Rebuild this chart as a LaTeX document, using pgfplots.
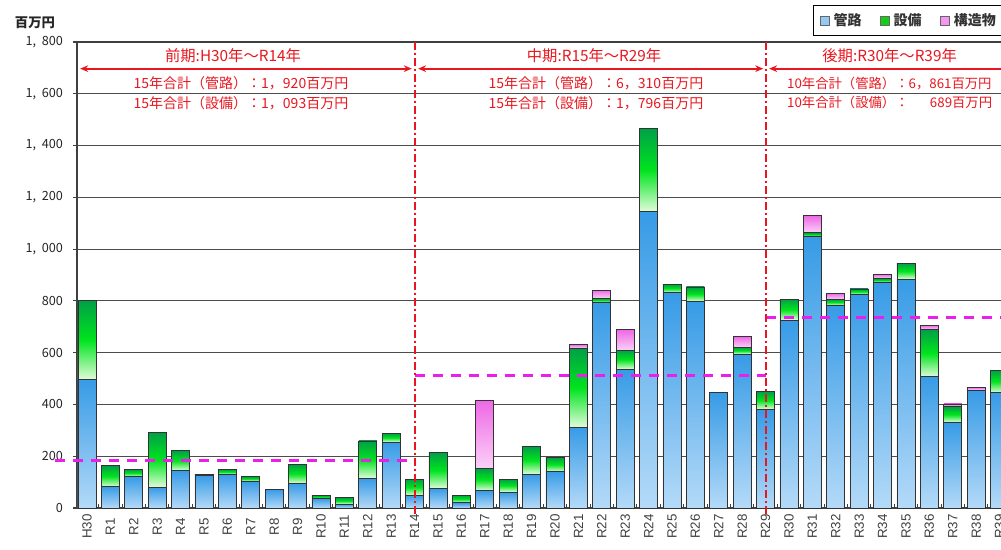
\documentclass[border=0pt]{standalone}
\usepackage{pgfplots}
\pgfplotsset{compat=1.18}
\usepackage{pgfplotstable}
\usepackage{fontspec}
\setmainfont{Noto Sans CJK JP}
\newfontfamily\latin{Liberation Sans}
\usetikzlibrary{arrows.meta}
\definecolor{BlueTop}{RGB}{55,155,230}
\definecolor{BlueBot}{RGB}{180,218,248}
\definecolor{GreenTop}{RGB}{0,160,70}
\definecolor{GreenMid}{RGB}{0,228,30}
\definecolor{GreenBot}{RGB}{225,252,218}
\definecolor{PinkTop}{RGB}{238,105,230}
\definecolor{PinkBot}{RGB}{252,208,248}
\definecolor{LegBlue}{RGB}{150,200,245}
\definecolor{LegGreen}{RGB}{20,205,20}
\definecolor{LegPink}{RGB}{245,150,240}
\definecolor{RedA}{RGB}{232,22,30}
\definecolor{Mag}{RGB}{235,30,235}

\pgfplotstableread{
x blue green pink
0 497 305 0
1 82 81 0
2 121 28 0
3 80 212 0
4 144 77 0
5 127 4 0
6 130 19 0
7 104 17 0
8 72 0 0
9 95 74 0
10 36 13 0
11 15 25 0
12 115 144 0
13 255 33 0
14 49 62 0
15 76 138 0
16 20 30 0
17 67 86 262
18 62 49 0
19 131 106 0
20 140 56 0
21 312 305 15
22 794 16 32
23 536 74 78
24 1145 321 0
25 832 32 0
26 798 56 0
27 445 3 0
28 595 25 42
29 382 67 0
30 726 81 0
31 1048 15 66
32 783 23 23
33 825 21 0
34 872 14 17
35 884 61 0
36 507 181 18
37 331 60 11
38 456 0 10
39 445 88 0
}\datatable

\pgfplotsset{
  segblue/.style={forget plot, draw=black!80, line width=0.6pt, top color=BlueTop, bottom color=BlueBot},
  seggreen/.style={forget plot, draw=black!80, line width=0.6pt, top color=GreenTop, bottom color=GreenBot, middle color=GreenMid},
  segpink/.style={forget plot, draw=black!80, line width=0.6pt, top color=PinkTop, bottom color=PinkBot},
}

\begin{document}
\begin{tikzpicture}
\useasboundingbox (-57.75pt,-31.5pt) rectangle (693pt,381pt);
\clip (-57.75pt,-31.5pt) rectangle (693pt,381pt);
\begin{axis}[
  scale only axis, width=709.5pt, height=349.5pt,
  at={(0pt,0pt)}, anchor=south west,
  xmin=-0.427, xmax=40, ymin=0, ymax=1800,
  clip=false,
  axis line style={black!75, line width=1pt},
  xtick={0,...,39},
  xticklabels={H30,R1,R2,R3,R4,R5,R6,R7,R8,R9,R10,R11,R12,R13,R14,R15,R16,R17,R18,R19,R20,R21,R22,R23,R24,R25,R26,R27,R28,R29,R30,R31,R32,R33,R34,R35,R36,R37,R38,R39},
  xticklabel style={rotate=90, anchor=center, font=\latin\fontsize{10}{12}\selectfont, text=black!75},
  xticklabel shift=14pt,
  minor xtick={0.5,1.5,...,39.5},
  xtick pos=bottom, ytick pos=left,
  xtick align=inside,
  ytick align=outside,
  major tick length=3pt,
  minor tick length=3pt,
  tick style={black!75, line width=0.8pt},
  ytick={0,200,...,1800},
  yticklabels={0,200,400,600,800,{1,\hspace{0.45em}000},{1,\hspace{0.45em}200},{1,\hspace{0.45em}400},{1,\hspace{0.45em}600},{1,\hspace{0.45em}800}},
  yticklabel style={font=\fontsize{9.5}{11}\selectfont, text=black!85, xshift=-4pt},
  ymajorgrids,
  grid style={black!70, line width=0.9pt},
  legend columns=3,
  legend style={at={(0.778,1.0794)}, anchor=north west, draw=black, line width=0.6pt,
    font=\bfseries\fontsize{10.5}{12}\selectfont, text=black!80, inner ysep=4pt, inner xsep=5pt,
    /tikz/every odd column/.append style={column sep=1pt},
    /tikz/every even column/.append style={column sep=12pt}},
]
\pgfplotsinvokeforeach{0,...,39}{
  \pgfplotstablegetelem{#1}{blue}\of\datatable \let\vb\pgfplotsretval
  \pgfplotstablegetelem{#1}{green}\of\datatable \let\vgr\pgfplotsretval
  \pgfplotstablegetelem{#1}{pink}\of\datatable \let\vpr\pgfplotsretval
  \pgfmathsetmacro\vg{\vb+\vgr}
  \pgfmathsetmacro\vp{\vg+\vpr}
  \pgfmathsetmacro\xl{#1-0.385}
  \pgfmathsetmacro\xr{#1+0.385}
  \addplot[segblue] coordinates {(\xl,0) (\xr,0) (\xr,\vb) (\xl,\vb)} -- cycle;
  \ifdim\vgr pt>0.5pt
    \addplot[seggreen] coordinates {(\xl,\vb) (\xr,\vb) (\xr,\vg) (\xl,\vg)} -- cycle;
  \fi
  \ifdim\vpr pt>0.5pt
    \addplot[segpink] coordinates {(\xl,\vg) (\xr,\vg) (\xr,\vp) (\xl,\vp)} -- cycle;
  \fi
}
\addlegendimage{legend image code/.code={\draw[draw=black!60, line width=0.5pt, fill=LegBlue] (0pt,-3.3pt) rectangle (6.6pt,3.3pt);}}
\addlegendentry{管路}
\addlegendimage{legend image code/.code={\draw[draw=black!60, line width=0.5pt, fill=LegGreen] (0pt,-3.3pt) rectangle (6.6pt,3.3pt);}}
\addlegendentry{設備}
\addlegendimage{legend image code/.code={\draw[draw=black!60, line width=0.5pt, fill=LegPink] (0pt,-3.3pt) rectangle (6.6pt,3.3pt);}}
\addlegendentry{構造物}

\draw[Mag, line width=2.2pt, dash pattern=on 7.5pt off 6pt] (axis cs:-1.37,182) -- (axis cs:14,182);
\draw[Mag, line width=2.2pt, dash pattern=on 7.5pt off 6pt] (axis cs:14,511) -- (axis cs:29,511);
\draw[Mag, line width=2.2pt, dash pattern=on 7.5pt off 6pt] (axis cs:29,735) -- (axis cs:40.5,735);

\draw[RedA, line width=1.6pt, dash pattern=on 6pt off 2.4pt on 1.2pt off 2.4pt] (axis cs:14,1800) -- (axis cs:14,-27);
\draw[RedA, line width=1.6pt, dash pattern=on 6pt off 2.4pt on 1.2pt off 2.4pt] (axis cs:29,1800) -- (axis cs:29,-27);

\draw[RedA, line width=1.4pt, {Stealth[length=6pt,width=5pt]}-{Stealth[length=6pt,width=5pt]}] (axis cs:-0.29,1697) -- (axis cs:13.88,1697);
\draw[RedA, line width=1.4pt, {Stealth[length=6pt,width=5pt]}-{Stealth[length=6pt,width=5pt]}] (axis cs:14.15,1697) -- (axis cs:28.9,1697);
\draw[RedA, line width=1.4pt, {Stealth[length=6pt,width=5pt]}-{Stealth[length=6pt,width=5pt]}] (axis cs:29.15,1697) -- (axis cs:39.9,1697);

\node[text=RedA, font=\fontsize{11.5}{13}\selectfont] at (axis cs:6.24,1748) {前期:H30年～R14年};
\node[text=RedA, font=\fontsize{10.5}{12}\selectfont] at (axis cs:6.58,1640) {15年合計（管路）：1，920百万円};
\node[text=RedA, font=\fontsize{10.5}{12}\selectfont] at (axis cs:6.58,1565) {15年合計（設備）：1，093百万円};
\node[text=RedA, font=\fontsize{11.5}{13}\selectfont] at (axis cs:21.67,1748) {中期:R15年～R29年};
\node[text=RedA, font=\fontsize{10.5}{12}\selectfont] at (axis cs:21.75,1640) {15年合計（管路）：6，310百万円};
\node[text=RedA, font=\fontsize{10.5}{12}\selectfont] at (axis cs:21.75,1565) {15年合計（設備）：1，796百万円};
\node[text=RedA, font=\fontsize{11.5}{13}\selectfont] at (axis cs:34.3,1748) {後期:R30年～R39年};
\node[text=RedA, font=\fontsize{10}{12}\selectfont, anchor=west, inner xsep=0pt] at (axis cs:29.91,1640) {10年合計（管路）：6，861百万円};
\node[text=RedA, font=\fontsize{10}{12}\selectfont, anchor=west, inner xsep=0pt] at (axis cs:29.91,1565) {10年合計（設備）：\hspace{1.6em}689百万円};

\node[font=\bfseries\fontsize{10}{12}\selectfont, text=black!85] at (rel axis cs:-0.0444,1.0408) {百万円};
\end{axis}
\end{tikzpicture}
\end{document}
